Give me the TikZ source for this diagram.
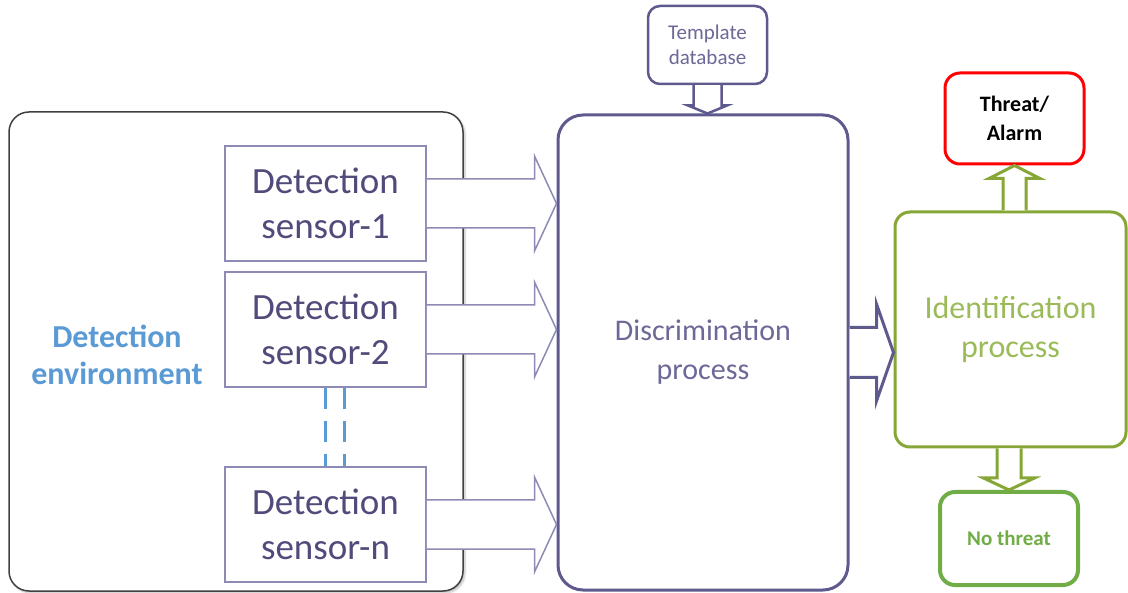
\documentclass[tikz,border=0pt]{standalone}
\usepackage{fontspec}
\setmainfont{Carlito}
\usepackage{tikz}
\usetikzlibrary{shapes,arrows,positioning,calc,shadows.blur}
\definecolor{envgray}{RGB}{64, 64, 64}
\definecolor{sensorline}{RGB}{142, 138, 182}
\definecolor{sensortext}{RGB}{80, 75, 122}
\definecolor{discpurple}{RGB}{94, 90, 142}
\definecolor{disctext}{RGB}{108, 104, 152}
\definecolor{envblue}{RGB}{91, 155, 213}
\definecolor{identgreen}{RGB}{134, 166, 54}
\definecolor{identtext}{RGB}{155, 187, 89}
\definecolor{alarmred}{RGB}{255, 0, 0}
\definecolor{safegreen}{RGB}{112, 173, 71}

% open-tailed block arrow: tail, tip, shaft half-width, head half-width, head length
\newcommand{\blockarrow}[6][]{%
  \coordinate (ba-base) at ($(#3)!#6!(#2)$);
  \filldraw[fill=white,#1]
    ($(#2)!#4!90:(#3)$) -- ($(ba-base)!#4!90:(#3)$) -- ($(ba-base)!#5!90:(#3)$)
    -- (#3) -- ($(ba-base)!#5!-90:(#3)$) -- ($(ba-base)!#4!-90:(#3)$) -- ($(#2)!#4!-90:(#3)$);
}

\begin{document}
\begin{tikzpicture}[
    x=1pt, y=-1pt,
    every node/.style={align=center, inner sep=0pt},
    envbox/.style={rectangle, rounded corners=20pt, minimum width=454pt, minimum height=479pt, draw=envgray, line width=1.5pt, fill=white, blur shadow={shadow blur steps=6, shadow xshift=2pt, shadow yshift=-2pt, shadow opacity=25}},
    sensor/.style={rectangle, minimum width=201pt, minimum height=115pt, draw=sensorline, line width=1.5pt, fill=white, text=sensortext, font=\fontsize{37}{45}\selectfont},
    process/.style={rectangle, rounded corners=25pt, draw=discpurple, line width=3pt, fill=white},
    result/.style={rectangle, rounded corners=15pt, line width=3pt, fill=white, font=\bfseries},
    sensorarrow/.style={draw=sensorline, line width=1.5pt},
    dots/.style={draw=envblue, line width=2.5pt, dash pattern=on 21pt off 12pt}
]
\useasboundingbox (0,0) rectangle (1128,593);

% Detection environment with its sensors
\node[envbox] (env) at (236,351.5) {};
\node[font=\bfseries\fontsize{32}{37}\selectfont, text=envblue] (envlabel) at (117,355) {Detection\\environment};
\node[sensor] (sensor1) at (325.5,203.5) {Detection\\sensor-1};
\node[sensor] (sensor2) at (325.5,329.5) {Detection\\sensor-2};
\node[sensor] (sensorn) at (325.5,524.5) {Detection\\sensor-n};
\draw[dots] (sensor2.south) -- (sensorn.north);
\draw[dots] ([xshift=19pt]sensor2.south) -- ([xshift=19pt]sensorn.north);

% Processing stages
\node[process, minimum width=290pt, minimum height=475pt, text=disctext, font=\fontsize{30}{39}\selectfont] (disc) at (703,352.5) {Discrimination\\process};
\node[process, rounded corners=12pt, line width=2.5pt, minimum width=119pt, minimum height=78pt, text=disctext, font=\fontsize{21}{25}\selectfont] (tmpl) at (707.5,45) {Template\\database};
\node[process, rounded corners=15pt, draw=identgreen, minimum width=231pt, minimum height=235pt, text=identtext, font=\fontsize{32}{39}\selectfont] (ident) at (1010.5,329.5) {Identification\\process};

% Outcomes
\node[result, draw=alarmred, minimum width=139pt, minimum height=91pt, font=\bfseries\fontsize{22}{29}\selectfont] (alarm) at (1014.5,118.5) {Threat/\\Alarm};
\node[result, draw=safegreen, line width=4pt, minimum width=138pt, minimum height=93pt, text=safegreen, font=\bfseries\fontsize{21}{24}\selectfont] (nothreat) at (1009,538.5) {No threat};

% Connections
\blockarrow[sensorarrow]{sensor1.east}{sensor1.east -| disc.west}{24.5pt}{47.5pt}{22pt}
\blockarrow[sensorarrow]{sensor2.east}{sensor2.east -| disc.west}{24.5pt}{47.5pt}{22pt}
\blockarrow[sensorarrow]{sensorn.east}{sensorn.east -| disc.west}{24.5pt}{47.5pt}{22pt}
\blockarrow[draw=discpurple, line width=2.5pt]{tmpl.south}{tmpl.south |- disc.north}{14pt}{19.5pt}{8pt}
\blockarrow[draw=discpurple, line width=3pt]{disc.east}{disc.east -| ident.west}{25pt}{48.5pt}{17pt}
\blockarrow[draw=identgreen, line width=3pt]{alarm.south |- ident.north}{alarm.south}{11.5pt}{25.5pt}{13pt}
\blockarrow[draw=identgreen, line width=3pt]{nothreat.north |- ident.south}{nothreat.north}{12pt}{25.5pt}{12pt}

\end{tikzpicture}
\end{document}
